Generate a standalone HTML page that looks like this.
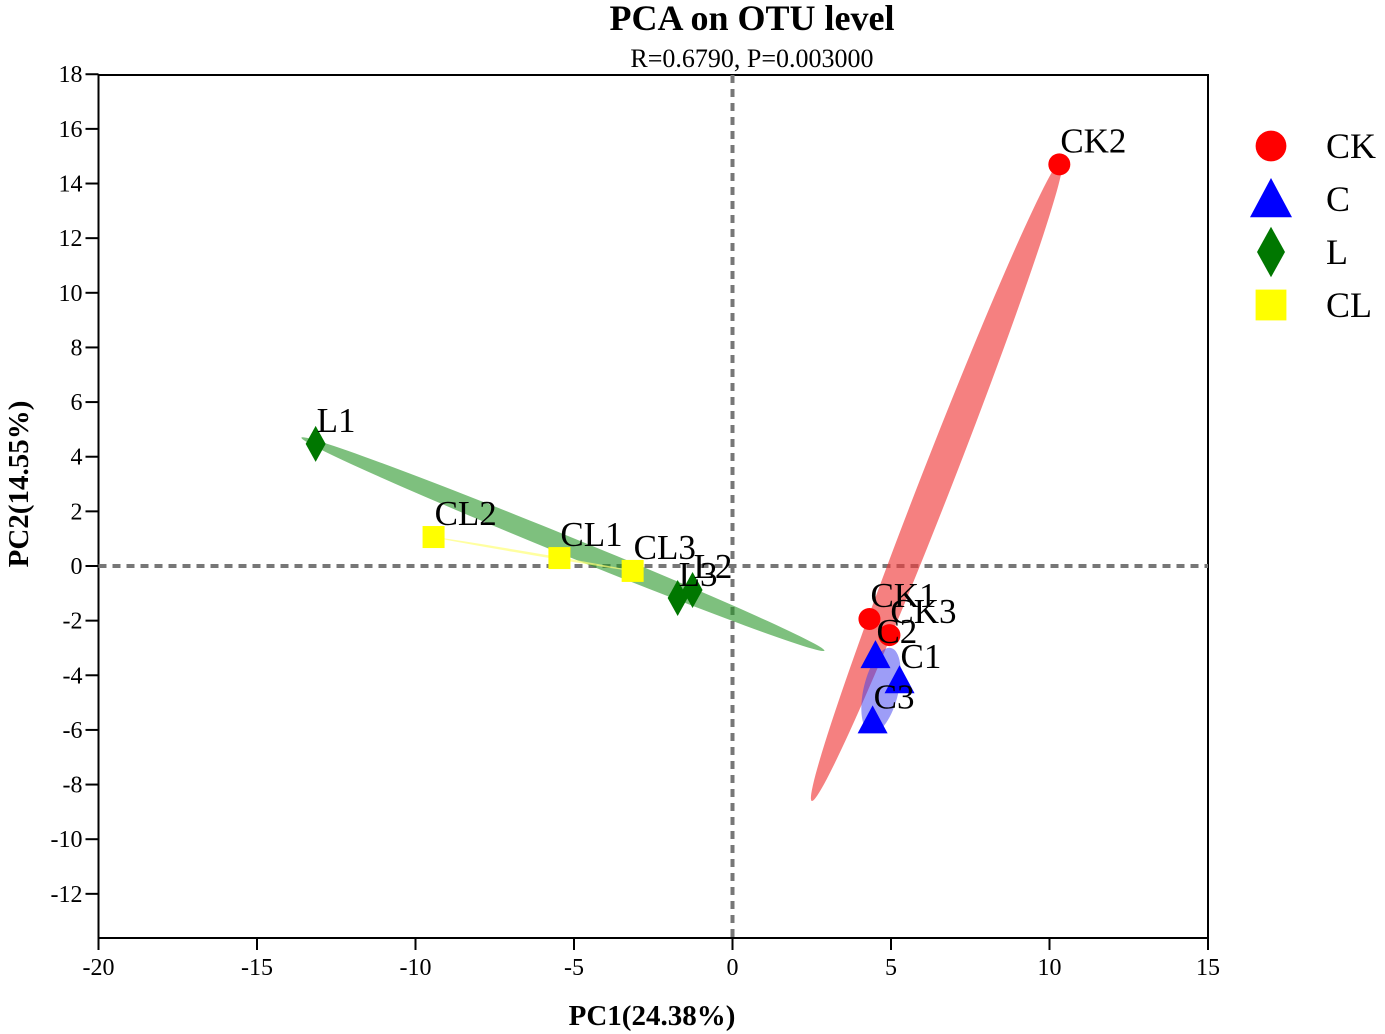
<!DOCTYPE html>
<html><head><meta charset="utf-8">
<style>
html,body{margin:0;padding:0;background:#fff;}
svg{display:block;font-family:"Liberation Serif",serif;}
</style></head>
<body>
<svg id="chart" width="1385" height="1034" viewBox="0 0 1385 1034" xmlns="http://www.w3.org/2000/svg">
<text x="752" y="30" font-size="36" font-weight="bold" text-anchor="middle">PCA on OTU level</text>
<text x="752" y="67" font-size="26" text-anchor="middle">R=0.6790, P=0.003000</text>
<g id="plot"></g>
<text x="652" y="1025" font-size="29" font-weight="bold" text-anchor="middle">PC1(24.38%)</text>
<text transform="translate(28,484) rotate(-90)" font-size="29" font-weight="bold" text-anchor="middle">PC2(14.55%)</text>
<g id="legend"></g>
</svg>
<script>
const xTicks = [-20,-15,-10,-5,0,5,10,15];
const yTicks = [18,16,14,12,10,8,6,4,2,0,-2,-4,-6,-8,-10,-12];
const sampleNames = ["CK1","CK2","CK3","C1","C2","C3","L1","L2","L3","CL1","CL2","CL3"];
const sampleGroups = ["CK","CK","CK","C","C","C","L","L","L","CL","CL","CL"];
const pc1Values = [4.32,10.31,4.95,5.27,4.51,4.42,-13.15,-1.26,-1.73,-5.46,-9.43,-3.15];
const pc2Values = [-1.94,14.70,-2.53,-4.18,-3.26,-5.65,4.47,-0.88,-1.17,0.29,1.06,-0.18];
const groupNames = ["CK","C","L","CL"];
const groupColors = ["#ff0000","#0000ff","#007700","#ffff00"];
const ellipseColors = ["rgba(240,60,60,0.65)","rgba(60,60,240,0.5)","rgba(40,150,40,0.6)","rgba(255,255,120,0.7)"];
const ellipseStartX = [2.5,5.0,-13.6,-9.43];
const ellipseStartY = [-8.6,-3.0,4.7,1.06];
const ellipseEndX = [10.4,4.37,2.9,-3.15];
const ellipseEndY = [14.9,-6.1,-3.1,-0.18];
const ellipseHalfWidth = [0.5,0.55,0.3,0.04];

const NS="http://www.w3.org/2000/svg";
const X0=98.5,X1=1208,Y0=75,Y1=938;
function sx(v){return X0+(v+20)/35*(X1-X0);}
function sy(v){return 566-v*27.32;}
function mk(tag,attrs,parent){const e=document.createElementNS(NS,tag);for(const k in attrs)e.setAttribute(k,attrs[k]);parent.appendChild(e);return e;}
const plot=document.getElementById('plot');

const frame=mk('rect',{x:X0,y:Y0,width:X1-X0,height:Y1-Y0,fill:'none',stroke:'#000','stroke-width':2},plot);


xTicks.forEach(t=>{
  const l=mk('line',{x1:sx(t),x2:sx(t),y1:Y1,y2:Y1+12,stroke:'#000','stroke-width':2},plot);
  
  
  const tx=mk('text',{x:sx(t),y:Y1+37,'font-size':24,'text-anchor':'middle'},plot);
  tx.textContent=t;
  
  
});
yTicks.forEach(t=>{
  const l=mk('line',{x1:X0-13,x2:X0,y1:sy(t),y2:sy(t),stroke:'#000','stroke-width':2},plot);
  
  
  const tx=mk('text',{x:X0-16,y:sy(t)+8,'font-size':24,'text-anchor':'end'},plot);
  tx.textContent=t;
  
  
});
const zh=mk('line',{x1:X0,x2:X1,y1:sy(0),y2:sy(0),stroke:'#777','stroke-width':4,'stroke-dasharray':'8,6'},plot);


const zv=mk('line',{x1:sx(0),x2:sx(0),y1:Y0,y2:Y1,stroke:'#777','stroke-width':4,'stroke-dasharray':'8,6'},plot);



groupNames.forEach((g,i)=>{
  const ax=sx(ellipseStartX[i]),ay=sy(ellipseStartY[i]),bx=sx(ellipseEndX[i]),by=sy(ellipseEndY[i]);
  const cx=(ax+bx)/2,cy=(ay+by)/2,len=Math.hypot(bx-ax,by-ay)/2;
  const ang=Math.atan2(by-ay,bx-ax)*180/Math.PI;
  const w=Math.max(1,ellipseHalfWidth[i]*31.7);
  const e=mk('ellipse',{cx:cx,cy:cy,rx:len,ry:w,fill:ellipseColors[i],transform:`rotate(${ang} ${cx} ${cy})`},plot);
  
  
});

function marker(group,x,y,parent,scale){
  const i=groupNames.indexOf(group),c=groupColors[i];scale=scale||1;
  let e;
  if(group==='CK') e=mk('circle',{cx:x,cy:y,r:11*scale,fill:c},parent);
  else if(group==='C') e=mk('polygon',{points:`${x},${y-15*scale} ${x+15*scale},${y+13*scale} ${x-15*scale},${y+13*scale}`,fill:c},parent);
  else if(group==='L') e=mk('polygon',{points:`${x},${y-18*scale} ${x+10*scale},${y} ${x},${y+18*scale} ${x-10*scale},${y}`,fill:c},parent);
  else e=mk('rect',{x:x-11*scale,y:y-11*scale,width:22*scale,height:22*scale,fill:c},parent);
  return e;
}
sampleNames.forEach((n,k)=>{
  const x=sx(pc1Values[k]),y=sy(pc2Values[k]);
  const m=marker(sampleGroups[k],x,y,plot);
  
  
});
sampleNames.forEach((n,k)=>{
  const x=sx(pc1Values[k]),y=sy(pc2Values[k]);
  const t=mk('text',{x:x+1,y:y-12,'font-size':35},plot);
  t.textContent=n;
  
  
});

const lg=document.getElementById('legend');
groupNames.forEach((g,i)=>{
  const y=146+i*53;
  const m=marker(g,1271,y,lg,1.4);
  
  
  const t=mk('text',{x:1326,y:y+12,'font-size':36},lg);
  t.textContent=g;
  
  
});
</script>
</body></html>
